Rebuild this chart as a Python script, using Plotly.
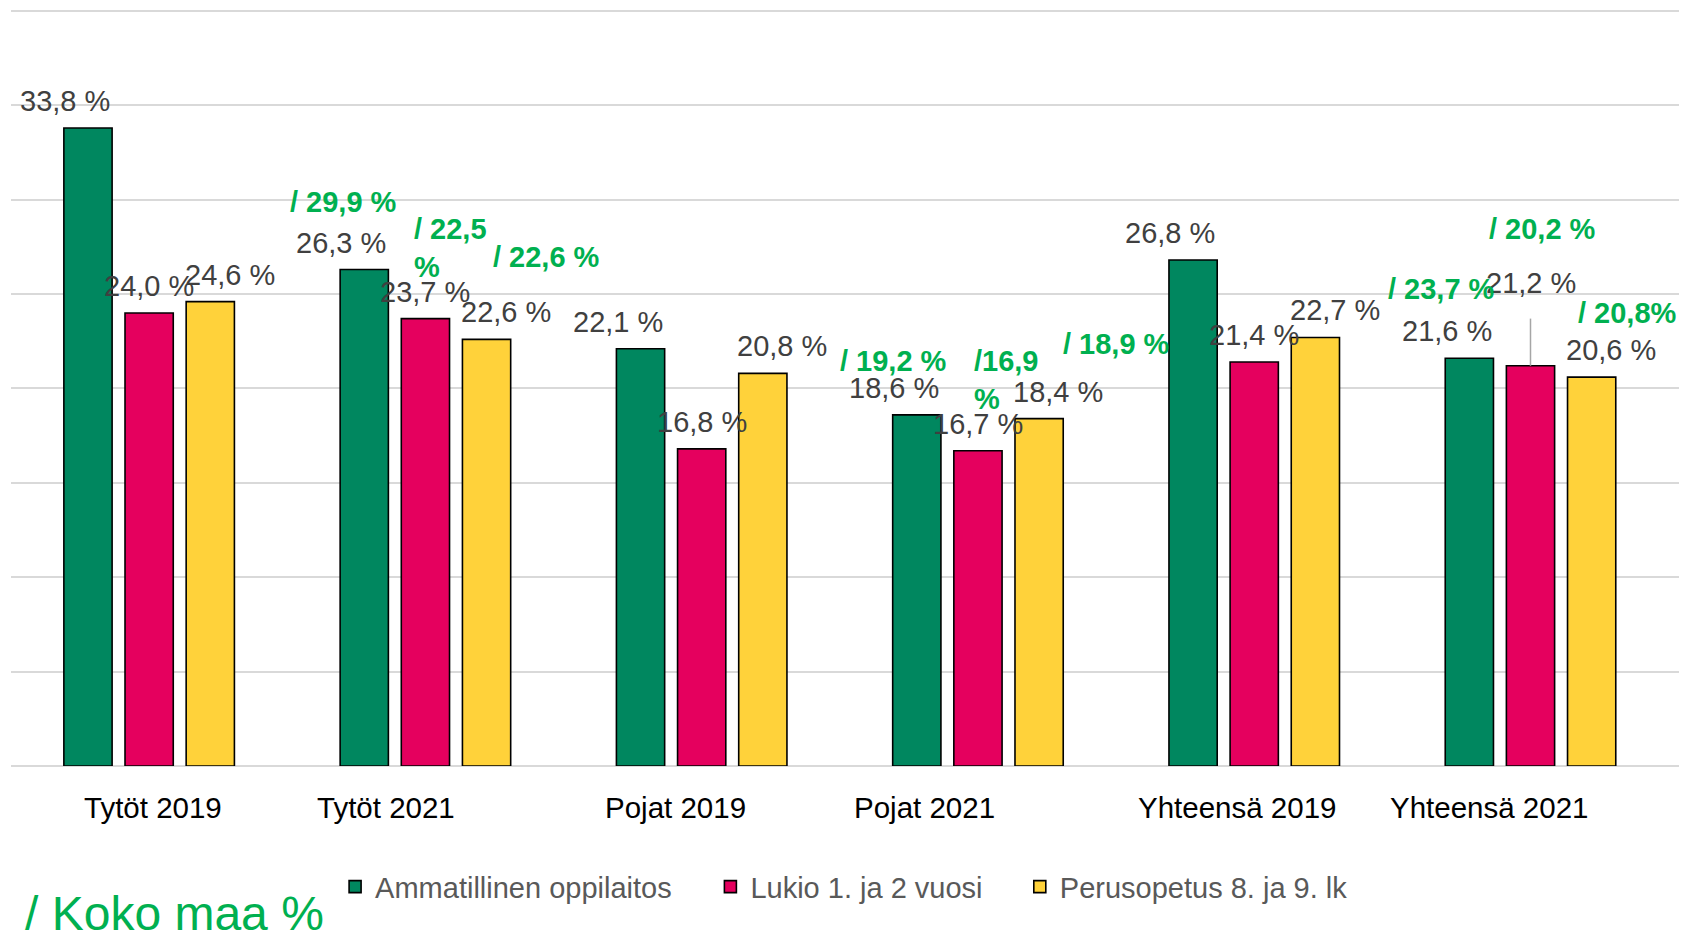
import plotly.graph_objects as go

categories = ["Tytöt 2019", "Tytöt 2021", "Pojat 2019", "Pojat 2021", "Yhteensä 2019", "Yhteensä 2021"]
series_names = ["Ammatillinen oppilaitos", "Lukio 1. ja 2 vuosi", "Perusopetus 8. ja 9. lk"]
ammatillinen = [33.8, 26.3, 22.1, 18.6, 26.8, 21.6]
lukio = [24.0, 23.7, 16.8, 16.7, 21.4, 21.2]
perusopetus = [24.6, 22.6, 20.8, 18.4, 22.7, 20.6]

# "Koko maa" (whole country) comparison values, shown for the 2021 groups
koko_maa_categories = ["Tytöt 2021", "Pojat 2021", "Yhteensä 2021"]
koko_maa_ammatillinen = [29.9, 19.2, 23.7]
koko_maa_lukio = [22.5, 16.9, 20.2]
koko_maa_perusopetus = [22.6, 18.9, 20.8]

colors = ["#00875F", "#E5005E", "#FFD23A"]
series = [ammatillinen, lukio, perusopetus]
koko_series = [koko_maa_ammatillinen, koko_maa_lukio, koko_maa_perusopetus]

W, H = 1675, 936
ML, MR, MT, MB = 3, 4, 1, 178
bar_pitch = 61.5  # px between bar centres in a group

FONT = "Liberation Sans, Arial, sans-serif"
legend_names = ["legend", "legend2", "legend3"]

fig = go.Figure()
for name, vals, col, lg in zip(series_names, series, colors, legend_names):
    fig.add_trace(go.Bar(
        x=categories, y=vals, name=name, legend=lg,
        marker=dict(color=col, line=dict(color="#000000", width=1.6)),
        hoverinfo="x+y",
    ))

annotations = []

def fmt(v):
    return f"{v:.1f}".replace(".", ",") + " %"

# gray value labels
label_dx = [-bar_pitch - 22.5, 0, bar_pitch + 19]
for si, vals in enumerate(series):
    for ci, cat in enumerate(categories):
        v = vals[ci]
        special = (cat == "Yhteensä 2021" and si == 1)
        annotations.append(dict(
            x=cat, y=v, xref="x", yref="y", text=fmt(v), showarrow=False,
            xshift=label_dx[si], yshift=83 if special else 27, yanchor="middle",
            font=dict(family=FONT, size=29, color="#404040"),
        ))

# leader line for 21,2 %
shapes = [dict(type="line", xref="x", yref="y", x0="Yhteensä 2021", x1="Yhteensä 2021",
               y0=lukio[5], y1=lukio[5] + 2.5, line=dict(color="#A6A6A6", width=1.5))]

# green "koko maa" labels: (xshift, yshift from bar top, xanchor)
koko_pos = {
    ("Tytöt 2021", 0): (-bar_pitch - 20, 67.5, "center"),
    ("Tytöt 2021", 1): (-13, 71, "left"),
    ("Tytöt 2021", 2): (bar_pitch + 59.5, 82.5, "center"),
    ("Pojat 2021", 0): (-bar_pitch - 23, 53.5, "center"),
    ("Pojat 2021", 1): (-6, 71, "left"),
    ("Pojat 2021", 2): (bar_pitch + 77, 74.5, "center"),
    ("Yhteensä 2021", 0): (-bar_pitch - 28, 69, "center"),
    ("Yhteensä 2021", 1): (12, 137, "center"),
    ("Yhteensä 2021", 2): (bar_pitch + 35.5, 64, "center"),
}
for ki, cat in enumerate(koko_maa_categories):
    ci = categories.index(cat)
    for si in range(3):
        kv = koko_series[si][ki]
        num = f"{kv:.1f}".replace(".", ",")
        if si == 1 and cat == "Tytöt 2021":
            txt = f"/ {num}<br>%"
        elif si == 1 and cat == "Pojat 2021":
            txt = f"/{num}<br>%"
        elif si == 2 and cat == "Yhteensä 2021":
            txt = f"/ {num}%"
        else:
            txt = f"/ {num} %"
        dx, dy, anchor = koko_pos[(cat, si)]
        annotations.append(dict(
            x=cat, y=series[si][ci], xref="x", yref="y", text=txt, showarrow=False,
            xshift=dx, yshift=dy, xanchor=anchor, yanchor="middle", align="left",
            font=dict(family=FONT, size=29, color="#00B050", weight="bold"),
        ))

# category labels
cat_dx = [4, -39, -26, -53, -17, -42]
for cat, dx in zip(categories, cat_dx):
    annotations.append(dict(
        x=cat, y=0, xref="x", yref="paper", text=cat, showarrow=False,
        xshift=dx, yshift=-41, yanchor="middle",
        font=dict(family=FONT, size=29.5, color="#000000"),
    ))

# "/ Koko maa %" note
annotations.append(dict(
    x=0, y=0, xref="paper", yref="paper", text="/ Koko maa %", showarrow=False,
    xshift=12, yshift=-147, xanchor="left", yanchor="middle",
    font=dict(family=FONT, size=48, color="#00B050"),
))

legend_common = dict(orientation="h", xanchor="left", y=-0.1596, yanchor="middle",
                     font=dict(family=FONT, size=29, color="#595959"),
                     bgcolor="rgba(0,0,0,0)", itemwidth=30)
legend_x = [0.1943, 0.4193, 0.6048]

fig.update_layout(
    width=W, height=H,
    margin=dict(l=ML, r=MR, t=MT, b=MB, autoexpand=False),
    paper_bgcolor="white", plot_bgcolor="white",
    barmode="group", bargap=0.336, bargroupgap=0.211,
    xaxis=dict(showticklabels=False, showgrid=False, ticks="", showline=False),
    yaxis=dict(range=[0, 40.1], tick0=0, dtick=5, showticklabels=False, showgrid=True,
               gridcolor="#D9D9D9", gridwidth=1.5, zeroline=True,
               zerolinecolor="#D9D9D9", zerolinewidth=1.5, showline=False),
    showlegend=True,
    legend=dict(x=legend_x[0], **legend_common),
    legend2=dict(x=legend_x[1], **legend_common),
    legend3=dict(x=legend_x[2], **legend_common),
    annotations=annotations,
    shapes=shapes,
)

fig.write_html("out.html")
